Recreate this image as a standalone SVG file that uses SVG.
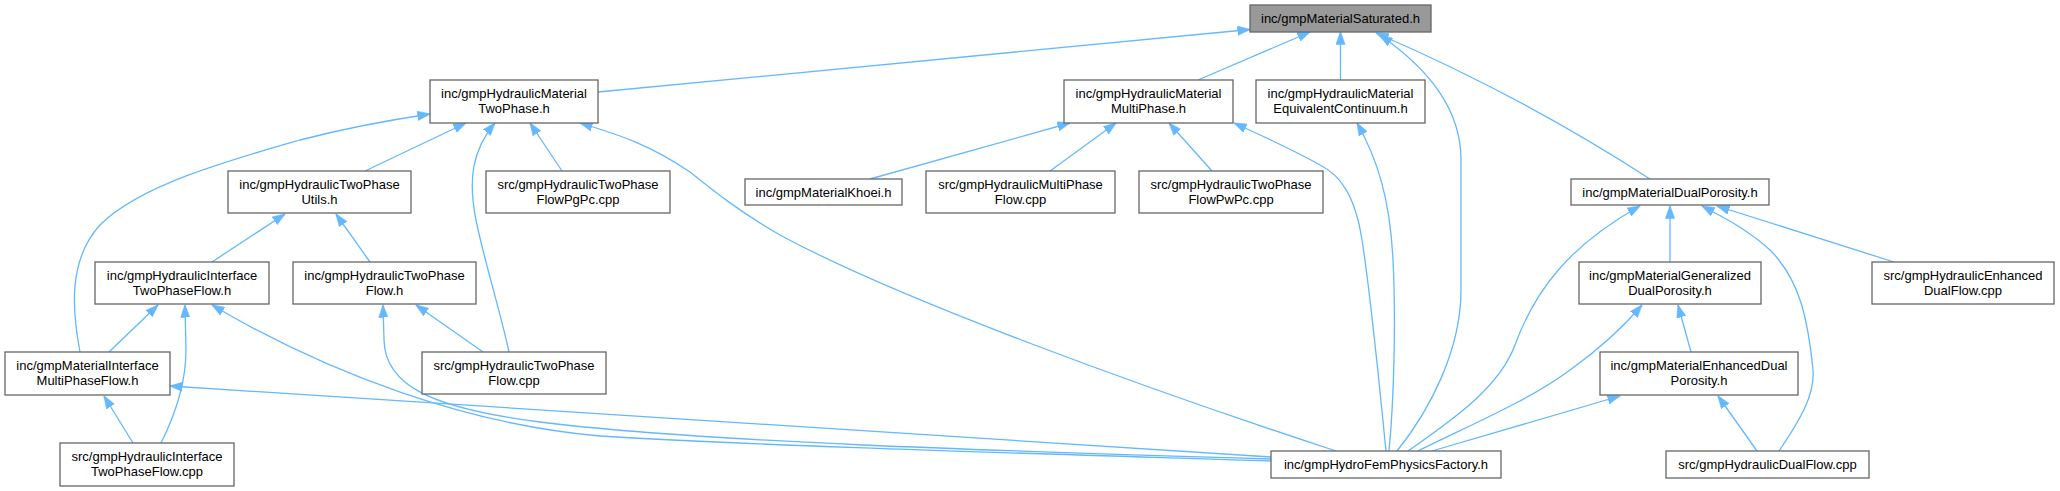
<svg xmlns="http://www.w3.org/2000/svg" width="2060" height="491" viewBox="0 0 2060 491">
<defs>
<style>
.node rect{fill:#ffffff;stroke:#666666;stroke-width:1.3}
#n_sat rect{fill:#999999}
.node text{font-family:"Liberation Sans",Arial,Helvetica,sans-serif;font-size:13px;fill:#000000;text-anchor:middle}
.edges path{fill:none;stroke:#63b8ff;stroke-width:1.3;marker-end:url(#arr)}
</style>
<marker id="arr" viewBox="0 0 13 10" refX="12.5" refY="5" markerWidth="13" markerHeight="10" markerUnits="userSpaceOnUse" orient="auto">
<path d="M0,0.3 L13,5 L0,9.7 z" fill="#63b8ff" stroke="#63b8ff" stroke-width="0.5"/>
</marker>
</defs>
<rect width="2060" height="491" fill="#ffffff"/>
<g class="edges" id="edges">
<path d="M598,92 L1250,29.5"/>
<path d="M1198,80 L1310,32"/>
<path d="M1340.5,80 L1340.5,32"/>
<path d="M1397,451 C1430,410 1461,350 1461,290 L1461,160 C1461,110 1430,70 1380,35"/>
<path d="M1650,179 Q1520,95 1376,33"/>
<path d="M365,171 L466,123"/>
<path d="M80,352 C72,310 68,260 100,225 C140,185 230,160 300,140 C350,127 390,120 430,114"/>
<path d="M509,352 C500,310 484,260 476,220 C468,180 472,150 495,123"/>
<path d="M562,171 L530,123"/>
<path d="M1336,451 C1150,390 900,300 780,235 C740,212 715,192 690,172 C650,145 620,135 580,123"/>
<path d="M870,179 L1070,123"/>
<path d="M1050,171 L1116,123"/>
<path d="M1212,171 L1169,123"/>
<path d="M1386,451 C1378,370 1370,290 1362,240 C1355,195 1340,175 1320,165 C1290,148 1260,135 1234,123"/>
<path d="M1389,451 C1394,400 1396,320 1393,260 C1390,200 1378,160 1357,123"/>
<path d="M212,262 L285,214"/>
<path d="M370,262 L336,214"/>
<path d="M109,352 L158,305"/>
<path d="M161,443 C175,415 186,385 186,350 L185,305"/>
<path d="M1271,461 C1050,454 760,446 600,436 C470,425 330,375 212,305"/>
<path d="M483,352 L416,305"/>
<path d="M1271,459 C1000,451 700,442 540,422 C430,408 385,385 384,340 L383,305"/>
<path d="M1271,457 L170,386"/>
<path d="M133,443 L104,396"/>
<path d="M1670,262 L1670,206"/>
<path d="M1408,451 C1460,415 1500,385 1515,345 C1535,290 1570,245 1640,206"/>
<path d="M1418,451 C1470,425 1530,400 1570,370 C1605,345 1625,325 1642,305"/>
<path d="M1432,451 L1620,396"/>
<path d="M1691,352 L1678,305"/>
<path d="M1757,451 L1718,396"/>
<path d="M1779,451 C1800,420 1815,395 1813,370 C1808,320 1800,280 1770,250 C1748,230 1725,218 1702,206"/>
<path d="M1894,262 L1717,206"/>
</g>
<g class="node" id="n_sat"><rect x="1250" y="5" width="181" height="27"/><text x="1340.5" y="23">inc/gmpMaterialSaturated.h</text></g>
<g class="node" id="n_tp"><rect x="430" y="80" width="168" height="43"/><text x="514" y="98">inc/gmpHydraulicMaterial</text><text x="514" y="113">TwoPhase.h</text></g>
<g class="node" id="n_mp"><rect x="1064" y="80" width="169" height="43"/><text x="1148.5" y="98">inc/gmpHydraulicMaterial</text><text x="1148.5" y="113">MultiPhase.h</text></g>
<g class="node" id="n_eq"><rect x="1256" y="80" width="169" height="43"/><text x="1340.5" y="98">inc/gmpHydraulicMaterial</text><text x="1340.5" y="113">EquivalentContinuum.h</text></g>
<g class="node" id="n_utils"><rect x="228" y="171" width="183" height="42"/><text x="319.5" y="189">inc/gmpHydraulicTwoPhase</text><text x="319.5" y="204">Utils.h</text></g>
<g class="node" id="n_pgpc"><rect x="486" y="171" width="184" height="42"/><text x="578" y="189">src/gmpHydraulicTwoPhase</text><text x="578" y="204">FlowPgPc.cpp</text></g>
<g class="node" id="n_khoei"><rect x="745" y="179" width="157" height="26"/><text x="823.5" y="197">inc/gmpMaterialKhoei.h</text></g>
<g class="node" id="n_mpf"><rect x="926" y="171" width="189" height="42"/><text x="1020.5" y="189">src/gmpHydraulicMultiPhase</text><text x="1020.5" y="204">Flow.cpp</text></g>
<g class="node" id="n_pwpc"><rect x="1139" y="171" width="184" height="42"/><text x="1231" y="189">src/gmpHydraulicTwoPhase</text><text x="1231" y="204">FlowPwPc.cpp</text></g>
<g class="node" id="n_dp"><rect x="1571" y="179" width="198" height="26"/><text x="1670" y="197">inc/gmpMaterialDualPorosity.h</text></g>
<g class="node" id="n_itpf_h"><rect x="95" y="262" width="174" height="42"/><text x="182" y="280">inc/gmpHydraulicInterface</text><text x="182" y="295">TwoPhaseFlow.h</text></g>
<g class="node" id="n_tpf_h"><rect x="293" y="262" width="183" height="42"/><text x="384.5" y="280">inc/gmpHydraulicTwoPhase</text><text x="384.5" y="295">Flow.h</text></g>
<g class="node" id="n_gdp"><rect x="1579" y="262" width="182" height="42"/><text x="1670" y="280">inc/gmpMaterialGeneralized</text><text x="1670" y="295">DualPorosity.h</text></g>
<g class="node" id="n_edf"><rect x="1872" y="262" width="182" height="42"/><text x="1963" y="280">src/gmpHydraulicEnhanced</text><text x="1963" y="295">DualFlow.cpp</text></g>
<g class="node" id="n_mimpf"><rect x="5" y="352" width="165" height="43"/><text x="87.5" y="370">inc/gmpMaterialInterface</text><text x="87.5" y="385">MultiPhaseFlow.h</text></g>
<g class="node" id="n_tpf_cpp"><rect x="422" y="352" width="184" height="42"/><text x="514" y="370">src/gmpHydraulicTwoPhase</text><text x="514" y="385">Flow.cpp</text></g>
<g class="node" id="n_edp"><rect x="1600" y="352" width="198" height="43"/><text x="1699" y="370">inc/gmpMaterialEnhancedDual</text><text x="1699" y="385">Porosity.h</text></g>
<g class="node" id="n_itpf_cpp"><rect x="60" y="443" width="174" height="43"/><text x="147" y="461">src/gmpHydraulicInterface</text><text x="147" y="476">TwoPhaseFlow.cpp</text></g>
<g class="node" id="n_fem"><rect x="1271" y="451" width="230" height="27"/><text x="1386" y="469">inc/gmpHydroFemPhysicsFactory.h</text></g>
<g class="node" id="n_df"><rect x="1666" y="451" width="203" height="27"/><text x="1767.5" y="469">src/gmpHydraulicDualFlow.cpp</text></g>
</svg>
